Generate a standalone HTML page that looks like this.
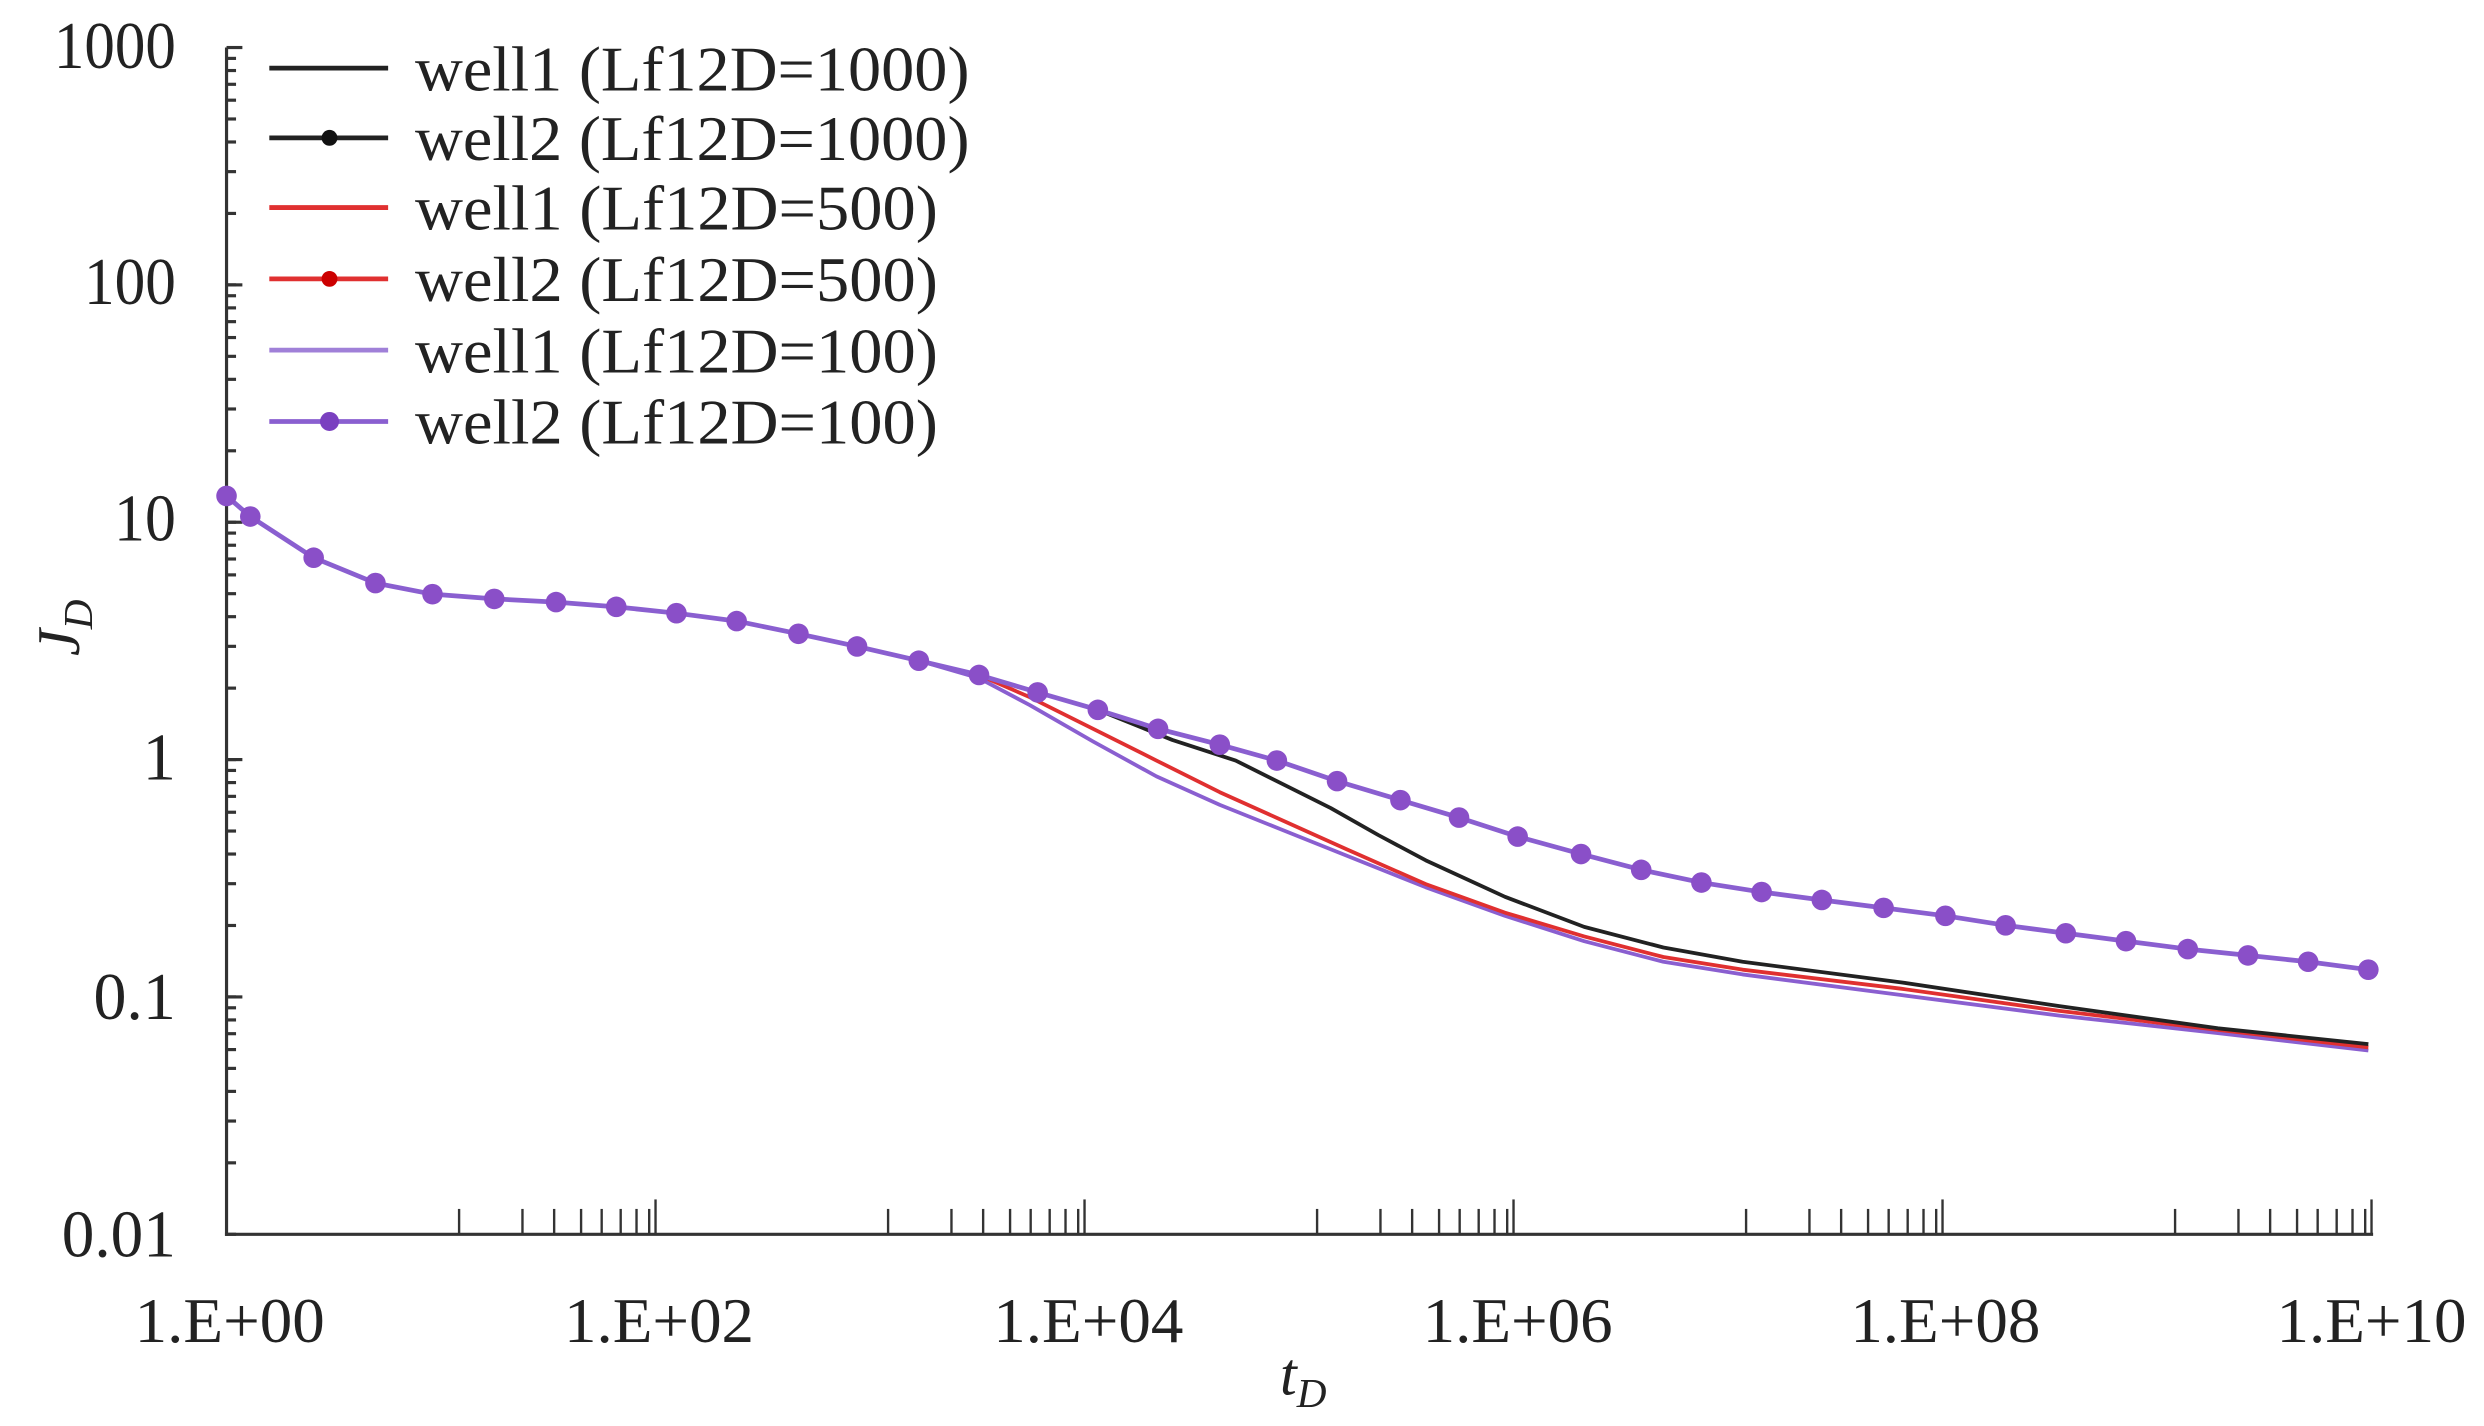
<!DOCTYPE html>
<html><head><style>html,body{margin:0;padding:0;background:#fff}svg{display:block}</style></head><body>
<svg width="2484" height="1426" viewBox="0 0 1568 900" preserveAspectRatio="none" xmlns="http://www.w3.org/2000/svg" font-family="Liberation Serif, serif">
<g stroke="#333" stroke-width="2" fill="none">
<line x1="143" y1="30" x2="143" y2="780"/>
<line x1="142" y1="779" x2="1498" y2="779"/>
</g>
<g id="yt" stroke="#333" stroke-width="2"></g>
<g id="xt" stroke="#333" stroke-width="1.5"></g>
<g font-size="42" fill="#222" text-anchor="end">
<text x="111" y="43" textLength="77" lengthAdjust="spacingAndGlyphs">1000</text>
<text x="111" y="192" textLength="58" lengthAdjust="spacingAndGlyphs">100</text>
<text x="111" y="341" textLength="39" lengthAdjust="spacingAndGlyphs">10</text>
<text x="111" y="492">1</text>
<text x="111" y="643" textLength="52" lengthAdjust="spacingAndGlyphs">0.1</text>
<text x="111" y="793" textLength="72" lengthAdjust="spacingAndGlyphs">0.01</text>
</g>
<g font-size="40" fill="#222" text-anchor="middle">
<text x="145" y="847" textLength="120" lengthAdjust="spacingAndGlyphs">1.E+00</text>
<text x="416" y="847" textLength="120" lengthAdjust="spacingAndGlyphs">1.E+02</text>
<text x="687" y="847" textLength="120" lengthAdjust="spacingAndGlyphs">1.E+04</text>
<text x="958" y="847" textLength="120" lengthAdjust="spacingAndGlyphs">1.E+06</text>
<text x="1228" y="847" textLength="120" lengthAdjust="spacingAndGlyphs">1.E+08</text>
<text x="1497" y="847" textLength="120" lengthAdjust="spacingAndGlyphs">1.E+10</text>
</g>
<text x="808" y="880" font-size="38" font-style="italic" fill="#222">t<tspan font-size="26" dy="8">D</tspan></text>
<text transform="translate(50,414) rotate(-90)" font-size="38" font-style="italic" fill="#222">J<tspan font-size="26" dy="8">D</tspan></text>
<g fill="none" stroke-width="2.4" stroke-linejoin="round">
<polyline stroke="#8a5fd0" points="580,417 618,428 650,445 690,468 730,490 770,508 810,524 850,540 900,560 950,578 1000,594 1050,607 1100,615 1200,628 1300,641 1400,652 1495,663"/>
<polyline stroke="#e03030" points="580,417 618,426 650,440 690,460 730,480 770,500 810,518 850,536 900,558 950,576 1000,591 1050,604 1100,612 1200,624 1300,638 1400,650 1495,661"/>
<polyline stroke="#222" points="580,417 618,426 655,437 693,448 740,467 780,480 810,495 840,510 870,527 900,543 950,566 1000,585 1050,598 1100,607 1200,620 1300,635 1400,649 1495,659"/>
<polyline stroke="#8a5fd0" stroke-width="3" points="143,313 158,326 198,352 237,368 273,375 312,378 351,380 389,383 427,387 465,392 504,400 541,408 580,417 618,426 655,437 693,448 731,460 770,470 806,480 844,493 884,505 921,516 958,528 998,539 1036,549 1074,557 1112,563 1150,568 1189,573 1228,578 1266,584 1304,589 1342,594 1381,599 1419,603 1457,607 1495,612"/>
</g>
<g id="mk" fill="#8a4fc8"></g>
<g stroke-width="3" fill="none">
<line x1="170" y1="43" x2="245" y2="43" stroke="#222"/>
<line x1="170" y1="87" x2="245" y2="87" stroke="#222"/>
<line x1="170" y1="131" x2="245" y2="131" stroke="#e03030"/>
<line x1="170" y1="176" x2="245" y2="176" stroke="#e03030"/>
<line x1="170" y1="221" x2="245" y2="221" stroke="#a080d8"/>
<line x1="170" y1="266" x2="245" y2="266" stroke="#8a5fd0"/>
</g>
<circle cx="208" cy="87" r="5" fill="#111"/><circle cx="208" cy="176" r="5" fill="#c00"/><circle cx="208" cy="266" r="6" fill="#7a40c0"/>
<g font-size="40" fill="#222">
<text x="262" y="57" textLength="350" lengthAdjust="spacingAndGlyphs">well1 (Lf12D=1000)</text>
<text x="262" y="101" textLength="350" lengthAdjust="spacingAndGlyphs">well2 (Lf12D=1000)</text>
<text x="262" y="145" textLength="330" lengthAdjust="spacingAndGlyphs">well1 (Lf12D=500)</text>
<text x="262" y="190" textLength="330" lengthAdjust="spacingAndGlyphs">well2 (Lf12D=500)</text>
<text x="262" y="235" textLength="330" lengthAdjust="spacingAndGlyphs">well1 (Lf12D=100)</text>
<text x="262" y="280" textLength="330" lengthAdjust="spacingAndGlyphs">well2 (Lf12D=100)</text>
</g>
<script>
var ns="http://www.w3.org/2000/svg";
var yt=document.getElementById('yt'),xt=document.getElementById('xt'),mk=document.getElementById('mk');
function L(g,a,b,c,d){var l=document.createElementNS(ns,'line');l.setAttribute('x1',a);l.setAttribute('y1',b);l.setAttribute('x2',c);l.setAttribute('y2',d);g.appendChild(l);}
for(var dcd=0;dcd<5;dcd++){for(var k=1;k<=10;k++){var y=779-(dcd+Math.log10(k))*149.8;L(yt,143,y,k==10?153:149,y);}}
var offs=[124,84,64,47,34,22,12,4];
for(var p=0;p<5;p++){var M=143+(2*p+2)*135.4;offs.forEach(function(o){L(xt,M-o,779,M-o,763);});L(xt,M,779,M,757);}
var pts=[[143,313],[158,326],[198,352],[237,368],[273,375],[312,378],[351,380],[389,383],[427,387],[465,392],[504,400],[541,408],[580,417],[618,426],[655,437],[693,448],[731,460],[770,470],[806,480],[844,493],[884,505],[921,516],[958,528],[998,539],[1036,549],[1074,557],[1112,563],[1150,568],[1189,573],[1228,578],[1266,584],[1304,589],[1342,594],[1381,599],[1419,603],[1457,607],[1495,612]];
pts.forEach(function(p){var c=document.createElementNS(ns,'circle');c.setAttribute('cx',p[0]);c.setAttribute('cy',p[1]);c.setAttribute('r',6.5);mk.appendChild(c);});
</script>
</svg>
</body></html>
